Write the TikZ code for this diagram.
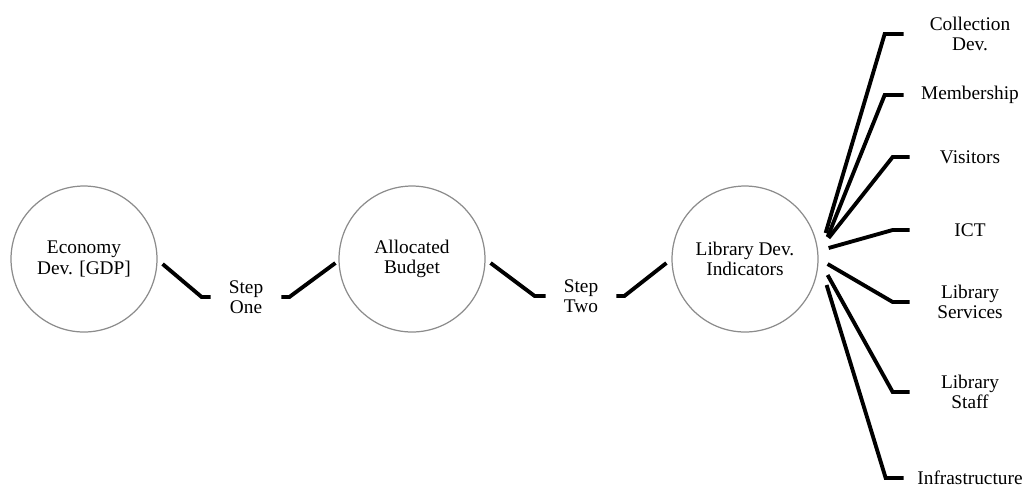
\documentclass[tikz,border=0pt]{standalone}
\usepackage{fontspec}
\setmainfont{Liberation Serif}
\usepackage{tikz}

\begin{document}
\begin{tikzpicture}[
        x=0.02cm, y=-0.02cm,
        every node/.style={font=\fontsize{11}{11.5}\selectfont},
        stage/.style={circle, draw=black!45, line width=0.7pt,
            minimum size=2.92cm, inner sep=0pt, align=center},
        link/.style={black, line width=2.2pt},
        step text/.style={minimum width=1.4cm, inner sep=0pt, align=center},
        leaf/.style={minimum width=2.4cm, inner sep=0pt, align=center},
    ]
    \useasboundingbox (0,0) rectangle (1026,488);

    % stages
    \node[stage] (eco) at (84,259) {Economy\\Dev. [GDP]};
    \node[stage] (bud) at (412,259) {Allocated\\Budget};
    \node[stage] (lib) at (745,259) {Library Dev.\\Indicators};

    % steps
    \node[step text] (one) at (246,297) {Step\\One};
    \node[step text] (two) at (581,296) {Step\\Two};

    \draw[link] ([shift={(5,5)}]eco.east) -- ([shift={(-9,0)}]one.west) -- (one.west);
    \draw[link] (one.east) -- ([shift={(8,0)}]one.east) -- ([shift={(-3,4)}]bud.west);
    \draw[link] ([shift={(5,4)}]bud.east) -- ([shift={(-11,0)}]two.west) -- (two.west);
    \draw[link] (two.east) -- ([shift={(8,0)}]two.east) -- ([shift={(-5,4)}]lib.west);

    % indicators
    \node[leaf] (coll) at (970,34) {Collection\\Dev.};
    \node[leaf] (memb) at (970,95) {Membership};
    \node[leaf] (vis) at (970,157) {Visitors};
    \node[leaf] (ict) at (970,230) {ICT};
    \node[leaf] (serv) at (970,302) {Library\\Services};
    \node[leaf] (staff) at (970,392) {Library\\Staff};
    \node[leaf] (infra) at (970,478) {Infrastructure};

    \draw[link] ([shift={(7,-26)}]lib.east) -- ([shift={(-25,0)}]coll.west) -- ([shift={(-6,0)}]coll.west);
    \draw[link] ([shift={(9,-22)}]lib.east) -- ([shift={(-25,0)}]memb.west) -- ([shift={(-6,0)}]memb.west);
    \draw[link] ([shift={(10,-21)}]lib.east) -- ([shift={(-17,0)}]vis.west) -- (vis.west);
    \draw[link] ([shift={(10,-11)}]lib.east) -- ([shift={(-17,0)}]ict.west) -- (ict.west);
    \draw[link] ([shift={(9,5)}]lib.east) -- ([shift={(-17,0)}]serv.west) -- (serv.west);
    \draw[link] ([shift={(9,16)}]lib.east) -- ([shift={(-17,0)}]staff.west) -- (staff.west);
    \draw[link] ([shift={(8,26)}]lib.east) -- ([shift={(-24,0)}]infra.west) -- ([shift={(-6,0)}]infra.west);
\end{tikzpicture}
\end{document}
